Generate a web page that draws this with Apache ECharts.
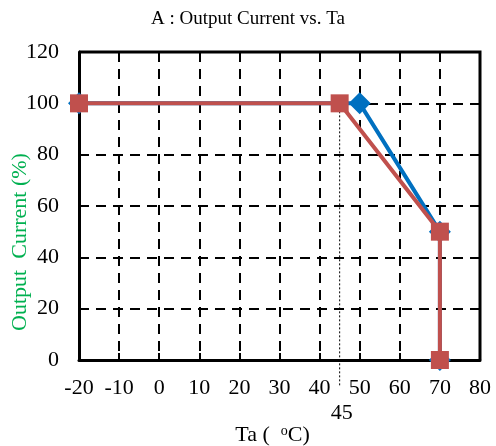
<!DOCTYPE html>
<html><head><meta charset="utf-8">
<script src="https://cdn.jsdelivr.net/npm/echarts@6/dist/echarts.min.js"></script>
<style>html,body{margin:0;padding:0;background:#fff}#c{width:496px;height:446px}</style>
</head><body><div id="c"></div>
<script>
const titleText = 'A : Output Current vs. Ta';
const yName = 'Output  Current (%)';
const xTicks = [-20, -10, 0, 10, 20, 30, 40, 50, 60, 70, 80];
const yTicks = [0, 20, 40, 60, 80, 100, 120];
const blueX = [-20, 50, 70, 70];
const blueY = [100, 100, 50, 0];
const redX = [-20, 45, 70, 70];
const redY = [100, 100, 50, 0];
const markerX = 45;
const markerTop = 100;

const font = '"Liberation Serif", "Times New Roman", serif';
const chart = echarts.init(document.getElementById('c'));
chart.setOption({
  animation: false,
  title: { text: titleText, left: 'center', top: 5, textStyle: { fontFamily: font, fontSize: 19, fontWeight: 'normal', color: '#000' } },
  grid: { left: 79, right: 16, top: 52, bottom: 86, containLabel: false, outerBoundsMode: 'none' },
  xAxis: {
    type: 'value', min: xTicks[0], max: xTicks[xTicks.length-1], interval: 10,
    axisLine: { onZero: false, lineStyle: { color: '#000', width: 3 } },
    axisTick: { inside: true, length: 7, lineStyle: { color: '#000', width: 2 } },
    axisLabel: { fontFamily: font, fontSize: 22, color: '#000', margin: 17 },
    splitLine: { show: true, lineStyle: { color: '#000', width: 2, type: [10, 7] } },
    name: 'Ta (  {s|o}C)', nameLocation: 'middle', nameGap: 64,
    nameTextStyle: { fontFamily: font, fontSize: 22, color: '#000', padding: [0, 14, 0, 0], rich: { s: { fontFamily: font, fontSize: 14, verticalAlign: 'top', padding: [0,0,9,0], color: '#000' } } }
  },
  yAxis: {
    type: 'value', min: yTicks[0], max: yTicks[yTicks.length-1], interval: 20,
    axisLine: { onZero: false, lineStyle: { color: '#000', width: 3 } },
    axisTick: { inside: true, length: 7, lineStyle: { color: '#000', width: 2 } },
    axisLabel: { fontFamily: font, fontSize: 22, color: '#000', margin: 20 },
    splitLine: { show: true, lineStyle: { color: '#000', width: 2, type: [10, 7] } }
  },
  series: [
    { type: 'line', data: blueX.map((x,i)=>[x, blueY[i]]), symbol: 'diamond', symbolSize: 22,
      itemStyle: { color: '#0070C0' }, lineStyle: { color: '#0070C0', width: 4 }, clip: false, z: 2 },
    { type: 'line', data: redX.map((x,i)=>[x, redY[i]]), symbol: 'rect', symbolSize: 18,
      itemStyle: { color: '#C0504D' }, lineStyle: { color: '#C0504D', width: 4 }, clip: false, z: 3 }
  ]
});
const tl = chart.convertToPixel({gridIndex:0}, [xTicks[0], yTicks[yTicks.length-1]]);
const br = chart.convertToPixel({gridIndex:0}, [xTicks[xTicks.length-1], yTicks[0]]);
const m = chart.convertToPixel({gridIndex:0}, [markerX, markerTop]);
chart.setOption({
  graphic: [
    { type: 'polyline', shape: { points: [[tl[0], tl[1]], [br[0], tl[1]], [br[0], br[1]]] }, style: { stroke: '#000', lineWidth: 3, fill: null }, z: 1 },
    { type: 'line', shape: { x1: m[0], y1: m[1], x2: m[0], y2: br[1] + 26 }, style: { stroke: '#000', lineWidth: 1, lineDash: [2, 2] }, z: 1 },
    { type: 'text', x: m[0] + 2, y: br[1] + 53, style: { text: String(markerX), font: '22px ' + font, fill: '#000', align: 'center', verticalAlign: 'middle' } },
    { type: 'text', x: tl[0] - 59, y: (tl[1] + br[1]) / 2 + 36, rotation: Math.PI / 2,
      style: { text: yName, font: '22px ' + font, fill: '#00B050', align: 'center', verticalAlign: 'middle' }, z: 5 }
  ]
});
</script></body></html>
